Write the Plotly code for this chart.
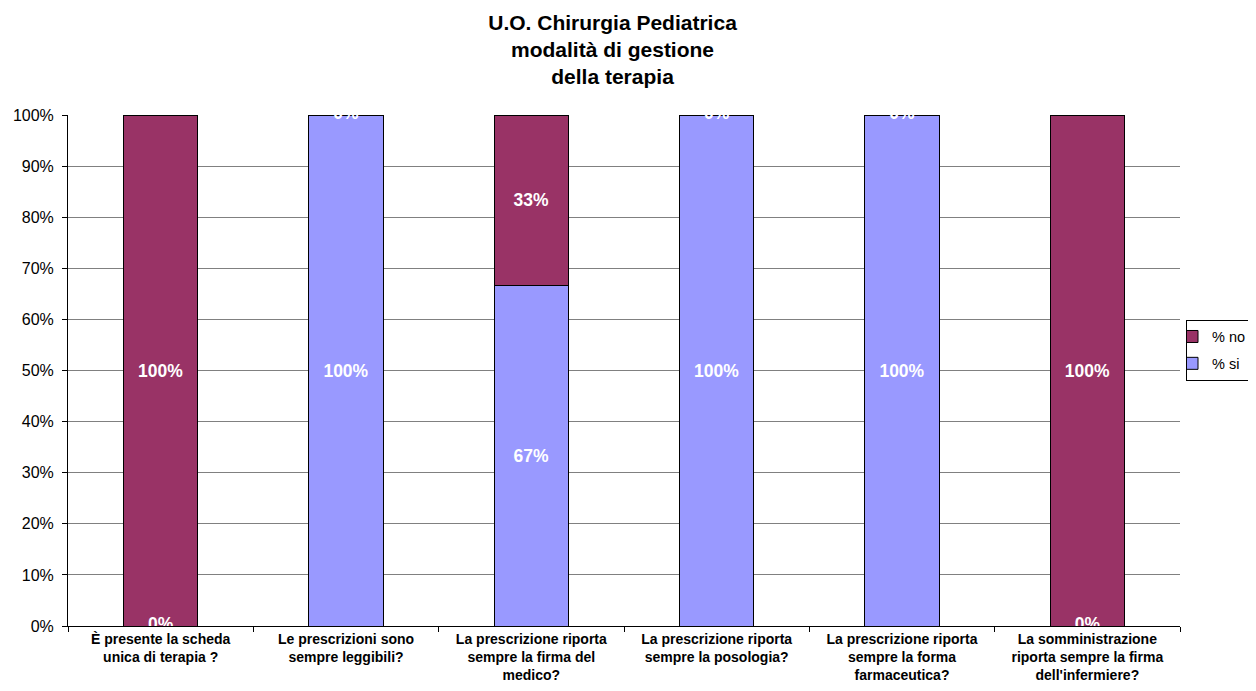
import plotly.graph_objects as go

categories = [
    "È presente la scheda<br>unica di terapia ?",
    "Le prescrizioni sono<br>sempre leggibili?",
    "La prescrizione riporta<br>sempre la firma del<br>medico?",
    "La prescrizione riporta<br>sempre la posologia?",
    "La prescrizione riporta<br>sempre la forma<br>farmaceutica?",
    "La somministrazione<br>riporta sempre la firma<br>dell'infermiere?",
]
pct_si = [0, 100, 66.67, 100, 100, 0]
pct_no = [100, 0, 33.33, 0, 0, 100]

col_si = "#9999FF"
col_no = "#993366"
font = "Liberation Sans, Arial, sans-serif"

def lbl(v):
    return f"{round(v)}%"

lab_font = dict(color="white", size=17.5, family=font, weight="bold")

fig = go.Figure()
fig.add_trace(go.Bar(
    x=categories, y=pct_si, name="% si", legendgroup="si", legendrank=2,
    marker=dict(color=col_si, line=dict(color="black", width=1)),
    text=[lbl(v) if v > 0 else "" for v in pct_si],
    textposition="inside", insidetextanchor="middle",
    textfont=lab_font, hoverinfo="skip",
))
fig.add_trace(go.Bar(
    x=categories, y=pct_no, name="% no", legendgroup="no", legendrank=1,
    marker=dict(color=col_no, line=dict(color="black", width=1)),
    text=[lbl(v) if v > 0 else "" for v in pct_no],
    textposition="inside", insidetextanchor="middle",
    textfont=lab_font, hoverinfo="skip",
))

# labels for zero-height segments (clipped by plot area, as in the reference)
zx, zy, zt = [], [], []
for c, s, n in zip(categories, pct_si, pct_no):
    if s == 0:
        zx.append(c); zy.append(0); zt.append(lbl(s))
    if n == 0:
        zx.append(c); zy.append(s); zt.append(lbl(n))
fig.add_trace(go.Scatter(
    x=zx, y=zy, text=zt, mode="text", textposition="middle center",
    textfont=lab_font, cliponaxis=True, showlegend=False, hoverinfo="skip",
))

# page body adds an 8px offset; figure sized to fill the remaining window
fig.update_layout(
    width=1248, height=675,
    barmode="stack", bargap=0.6,
    paper_bgcolor="white", plot_bgcolor="white",
    margin=dict(l=60, r=76, t=107, b=57, autoexpand=False),
    font=dict(family=font, size=14, color="black"),
    title=dict(
        text="U.O. Chirurgia Pediatrica<br>modalità di gestione<br>della terapia",
        x=0.4897, xanchor="center", xref="paper",
        y=0.968, yanchor="middle", yref="container",
        font=dict(size=21, family=font, color="black", weight="bold"),
    ),
    legend=dict(
        x=1.0054, xanchor="left", y=0.54, yanchor="middle",
        traceorder="grouped",
        bordercolor="black", borderwidth=1,
        font=dict(size=14.5, family=font),
        itemwidth=30, tracegroupgap=5, indentation=-15,
    ),
    showlegend=True,
)
fig.update_xaxes(
    type="category", tickson="boundaries", ticks="outside", ticklen=5,
    tickcolor="black", showline=True, linecolor="black", linewidth=1,
    tickfont=dict(size=14, family=font, weight="bold"),
    showgrid=False,
)
fig.update_yaxes(
    range=[0, 100], tickvals=[0, 10, 20, 30, 40, 50, 60, 70, 80, 90, 100],
    ticktext=["0%", "10%", "20%", "30%", "40%", "50%", "60%", "70%", "80%", "90%", "100%"],
    ticks="outside", ticklen=5, tickcolor="black",
    showline=True, linecolor="black", linewidth=1,
    showgrid=True, gridcolor="#808080", gridwidth=1,
    tickfont=dict(size=16, family=font), ticklabelstandoff=5,
    zeroline=False,
)
fig.write_html("out.html")
